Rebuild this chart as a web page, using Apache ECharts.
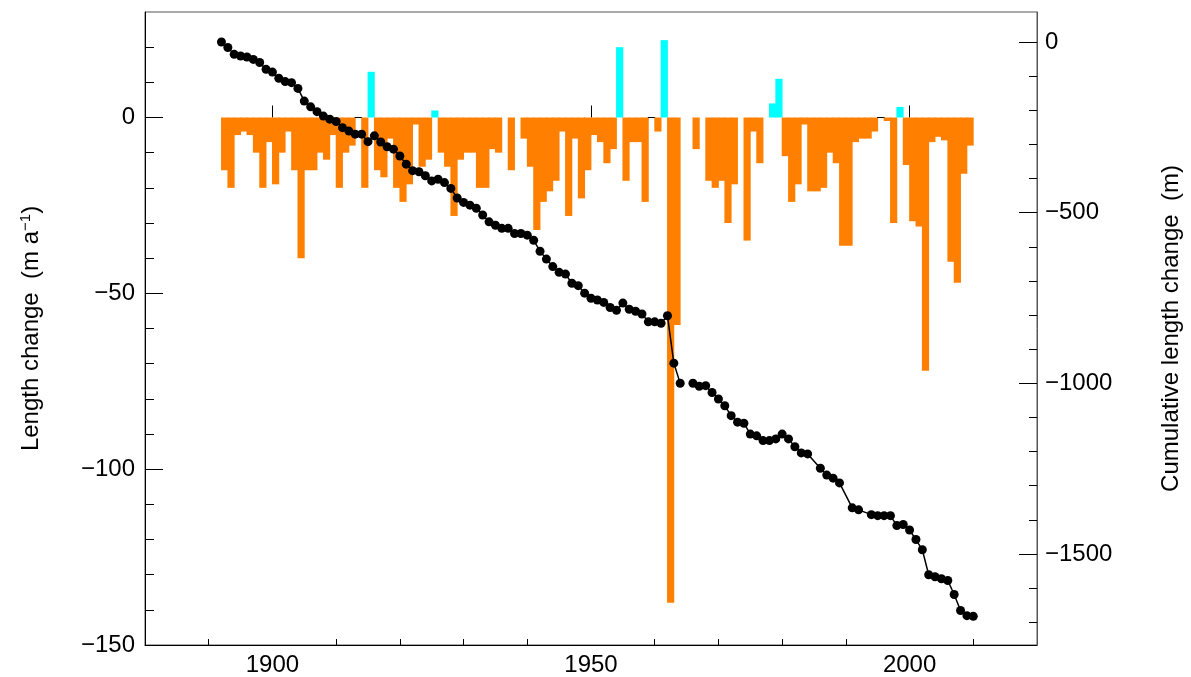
<!DOCTYPE html>
<html><head><meta charset="utf-8">
<script src="https://cdn.jsdelivr.net/npm/echarts@6/dist/echarts.min.js"></script>
<style>html,body{margin:0;padding:0;background:#fff}#c{width:1191px;height:677px}</style>
</head><body><div id="c"></div>
<script>
// ---- data ----
const barYears = [1892,1893,1894,1895,1896,1897,1898,1899,1900,1901,1902,1903,1904,1905,1906,1907,1908,1909,1910,1911,1912,1913,1914,1915,1916,1917,1918,1919,1920,1921,1922,1923,1924,1925,1926,1927,1928,1929,1930,1931,1932,1933,1934,1935,1936,1937,1938,1939,1940,1941,1942,1943,1944,1945,1946,1947,1948,1949,1950,1951,1952,1953,1954,1955,1956,1957,1958,1959,1960,1961,1962,1963,1964,1965,1966,1967,1968,1969,1970,1971,1972,1973,1974,1975,1976,1977,1978,1979,1980,1981,1982,1983,1984,1985,1986,1987,1988,1989,1990,1991,1992,1993,1994,1995,1996,1997,1998,1999,2000,2001,2002,2003,2004,2005,2006,2007,2008,2009];
const lengthChange = [-15,-20,-5,-4,-5,-10,-20,-7,-19,-10,-4,-15,-40,-15,-15,-10,-12,-5,-20,-10,-8,0,-20,13,-15,-17,-6,-20,-24,-19,-2,-14,-12,2,-10,-14,-28,-12,-10,-10,-20,-20,-9,-10,null,-15,null,-6,-14,-32,-24,-21,-18,-4,-28,-6,-23,-15,-5,-7,-13,-9,20,-18,-7,-7,-24,0,-4,22,-138,-59,null,null,-9,null,-18,-20,-18,-30,-19,null,-35,-4,-13,null,4,11,-11,-24,-19,-2,-21,-21,-20,-10,-13,-36.5,-36.5,-7,-6,-6,-4,0,-1,-30,3,-13.5,-29.5,-31,-72,-7,-5.5,-6.5,-41,-47,-16,-8];
const cumYears = [1892,1893,1894,1895,1896,1897,1898,1899,1900,1901,1902,1903,1904,1905,1906,1907,1908,1909,1910,1911,1912,1913,1914,1915,1916,1917,1918,1919,1920,1921,1922,1923,1924,1925,1926,1927,1928,1929,1930,1931,1932,1933,1934,1935,1936,1937,1938,1939,1940,1941,1942,1943,1944,1945,1946,1947,1948,1949,1950,1951,1952,1953,1954,1955,1956,1957,1958,1959,1960,1961,1962,1963,1964,1965,1966,1967,1968,1969,1970,1971,1972,1973,1974,1975,1976,1977,1978,1979,1980,1981,1982,1983,1984,1986,1987,1988,1989,1991,1992,1994,1995,1996,1997,1998,1999,2000,2001,2002,2003,2004,2005,2006,2007,2008,2009,2010];
const cumulativeChange = [0,-16,-36,-41,-44,-51,-60,-80,-88,-106,-116,-119,-136,-173,-190,-204,-217,-226,-233,-251,-261,-270,-270,-292,-275,-293,-307,-314,-334,-358,-377,-380,-392,-407,-402,-412,-429,-457,-470,-478,-487,-507,-527,-537,-546,-546,-561,-561,-566,-581,-613,-636,-658,-675,-680,-707,-714,-736,-751,-756,-763,-778,-786,-765,-783,-789,-797,-820,-820,-824,-802,-941,-1000,null,-1000,-1009,-1007,-1027,-1046,-1066,-1095,-1114,-1117,-1149,-1154,-1168,-1168,-1163,-1149,-1163,-1186,-1204,-1207,-1249,-1269,-1278,-1292,-1365,-1371,-1385,-1388,-1388,-1388,-1417,-1414,-1430,-1458,-1488,-1561,-1567,-1573,-1578,-1619,-1666,-1681,-1683];
const xLabelTicks = [1900,1950,2000];
const xMinorTicks = [1890,1910,1920,1930,1940,1960,1970,1980,1990,2010];
const leftLabelTicks = [0,-50,-100,-150];
const leftMinorTicks = [20,10,-10,-20,-30,-40,-60,-70,-80,-90,-110,-120,-130,-140];
const rightLabelTicks = [0,-500,-1000,-1500];
const rightMinorTicks = [-100,-200,-300,-400,-600,-700,-800,-900,-1100,-1200,-1300,-1400,-1600,-1700];

// ---- chart ----
const FONT = 'Liberation Sans';
const fmt = v => (v < 0 ? '\u2212' + Math.abs(v) : String(v));
const X_MIN = 1880, X_MAX = 2020;
const L_MIN = -150, L_MAX = 30;
const R_MIN = -1767, R_MAX = 88;

const barData = barYears.map((y, i) => {
  const v = lengthChange[i];
  if (v === null) return [y + 0.5, '-'];
  if (v === 0) return { value: [y + 0.5, 0], itemStyle: { borderColor: '#000', borderWidth: 1 } };
  return [y + 0.5, v];
});
const lineData = cumYears.map((y, i) => [y, cumulativeChange[i] === null ? '-' : cumulativeChange[i]]);

const labelStyle = { fontFamily: FONT, fontSize: 24, color: '#000' };
const chart = echarts.init(document.getElementById('c'), null, { renderer: 'canvas' });
chart.setOption({
  animation: false,
  backgroundColor: '#fff',
  grid: { left: 145, right: 154, top: 12, bottom: 31, show: true, borderColor: '#555', borderWidth: 1, containLabel: false },
  xAxis: [
    { type: 'value', min: X_MIN, max: X_MAX, position: 'bottom',
      axisLine: { show: true, onZero: false, lineStyle: { color: '#000', width: 1 } },
      axisTick: { show: true, inside: true, length: 6, customValues: xMinorTicks, lineStyle: { color: '#000' } },
      axisLabel: { show: true, customValues: xLabelTicks, margin: 8, formatter: v => String(v), ...labelStyle },
      splitLine: { show: false } },
    { type: 'value', min: X_MIN, max: X_MAX, position: 'bottom',
      axisLine: { show: false },
      axisTick: { show: true, inside: true, length: 12, customValues: xLabelTicks, lineStyle: { color: '#000' } },
      axisLabel: { show: false, customValues: xLabelTicks },
      splitLine: { show: false } }
  ],
  yAxis: [
    { type: 'value', min: L_MIN, max: L_MAX, position: 'left',
      name: '{t|Length change  (m a}{s|\u22121}{t|)}', nameLocation: 'middle', nameGap: 100, nameRotate: 90,
      nameTextStyle: { rich: { t: { fontFamily: FONT, fontSize: 24, color: '#000' }, s: { fontFamily: FONT, fontSize: 15, color: '#000', verticalAlign: 'top', padding: [0, 0, 12, 0] } } },
      axisLine: { show: true, onZero: false, lineStyle: { color: '#000', width: 1 } },
      axisTick: { show: true, inside: true, length: 9, customValues: leftMinorTicks, lineStyle: { color: '#000' } },
      axisLabel: { show: true, customValues: leftLabelTicks, margin: 10, formatter: fmt, ...labelStyle },
      splitLine: { show: false } },
    { type: 'value', min: R_MIN, max: R_MAX, position: 'right',
      name: 'Cumulative length change  (m)', nameLocation: 'middle', nameGap: 122, nameRotate: 90,
      nameTextStyle: { fontFamily: FONT, fontSize: 24, color: '#000' },
      axisLine: { show: true, onZero: false, lineStyle: { color: '#555', width: 1 } },
      axisTick: { show: true, inside: true, length: 8, customValues: rightMinorTicks, lineStyle: { color: '#000' } },
      axisLabel: { show: true, customValues: rightLabelTicks, margin: 8, formatter: fmt, ...labelStyle },
      splitLine: { show: false } },
    { type: 'value', min: L_MIN, max: L_MAX, position: 'left',
      axisLine: { show: false },
      axisTick: { show: true, inside: true, length: 18, customValues: leftLabelTicks, lineStyle: { color: '#000' } },
      axisLabel: { show: false, customValues: leftLabelTicks },
      splitLine: { show: false } },
    { type: 'value', min: R_MIN, max: R_MAX, position: 'right',
      axisLine: { show: false },
      axisTick: { show: true, inside: true, length: 18, customValues: rightLabelTicks, lineStyle: { color: '#000' } },
      axisLabel: { show: false, customValues: rightLabelTicks },
      splitLine: { show: false } }
  ],
  series: [
    { type: 'bar', name: 'Length change', xAxisIndex: 0, yAxisIndex: 0, data: barData,
      barWidth: 7.2, z: 2,
      itemStyle: { color: p => (p.value[1] > 0 ? '#00FFFF' : '#FF8000') } },
    { type: 'line', name: 'Cumulative length change', xAxisIndex: 0, yAxisIndex: 1, data: lineData,
      connectNulls: false, symbol: 'circle', symbolSize: 9, showSymbol: true, z: 5,
      lineStyle: { color: '#000', width: 1.5 }, itemStyle: { color: '#000' } }
  ]
});
</script></body></html>
